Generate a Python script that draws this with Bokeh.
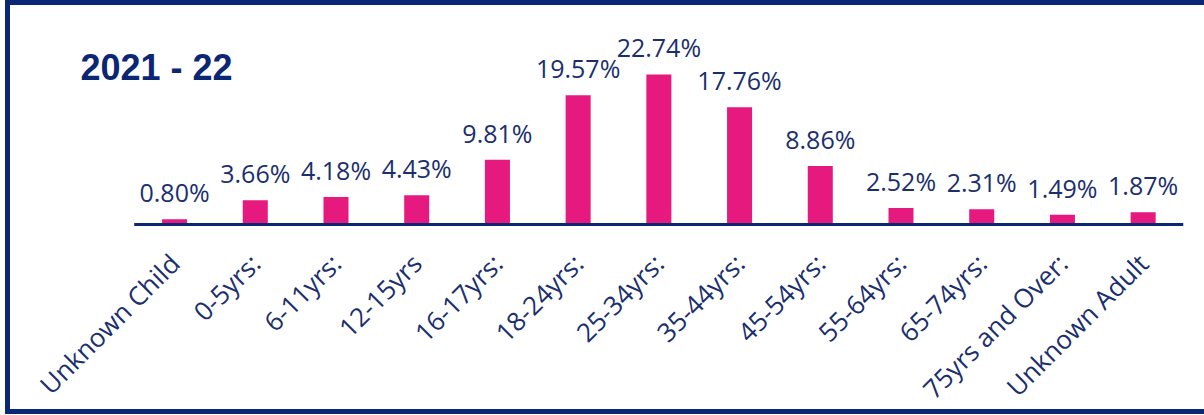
import math
from bokeh.plotting import figure
from bokeh.layouts import column
from bokeh.models import ColumnDataSource, LabelSet, Label, FactorRange
from bokeh.core.properties import value
from bokeh.embed import file_html
from bokeh.resources import INLINE

categories = ["Unknown Child", "0-5yrs:", "6-11yrs:", "12-15yrs", "16-17yrs:",
              "18-24yrs:", "25-34yrs:", "35-44yrs:", "45-54yrs:", "55-64yrs:",
              "65-74yrs:", "75yrs and Over:", "Unknown Adult"]
values = [0.80, 3.66, 4.18, 4.43, 9.81, 19.57, 22.74, 17.76, 8.86, 2.52, 2.31, 1.49, 1.87]
value_labels = ["%.2f%%" % v for v in values]
title_text = "2021 - 22"

NAVY = "#0b2674"
TEXT = "#1b2f6e"
PINK = "#e6197f"

src = ColumnDataSource(dict(cat=categories, val=values, lab=value_labels))

# a blank leading slot leaves room for the title inside the frame
xr = FactorRange(factors=[" "] + categories, range_padding=0)

p = figure(x_range=xr, y_range=(-0.3, 33.18), width=1194, height=416,
           output_backend="svg", toolbar_location=None,
           min_border_left=43, min_border_right=21, min_border_top=0, min_border_bottom=0)
p.styles = {"flex-shrink": "0", "min-height": "416px"}

p.vbar(x="cat", top="val", bottom=0, width=0.31, source=src, fill_color=PINK, line_color=None)

# baseline spanning only the real categories
p.segment(x0=[(categories[0], -0.5)], x1=[(categories[-1], 0.5)], y0=[0], y1=[0],
          line_color=NAVY, line_width=3)

p.add_layout(LabelSet(x="cat", y="val", text="lab", source=src, text_align="center",
                      text_baseline="alphabetic", y_offset=17, text_font=value("Open Sans"),
                      text_font_size=value("25px"), text_color=TEXT))

p.add_layout(Label(x=27, x_units="screen", y=23.85, text=title_text,
                   text_font="Liberation Sans", text_font_style="bold",
                   text_font_size="36px", text_color=NAVY, text_baseline="alphabetic"))

p.yaxis.visible = False
p.xgrid.visible = False
p.ygrid.visible = False
p.outline_line_color = None
ax = p.xaxis[0]
ax.axis_line_color = None
ax.major_tick_line_color = None
ax.minor_tick_line_color = None
ax.major_label_orientation = math.pi / 4
ax.major_label_text_font = "Open Sans"
ax.major_label_text_font_size = "26px"
ax.major_label_text_color = TEXT
ax.major_label_standoff = 26

layout = column(p, width=1199, height=414,
                styles={"margin-left": "5px", "overflow": "hidden", "display": "block",
                        "border-top": "5px solid " + NAVY,
                        "border-left": "5px solid " + NAVY,
                        "border-bottom": "5px solid " + NAVY})

open("out.html", "w").write(file_html(layout, INLINE))
